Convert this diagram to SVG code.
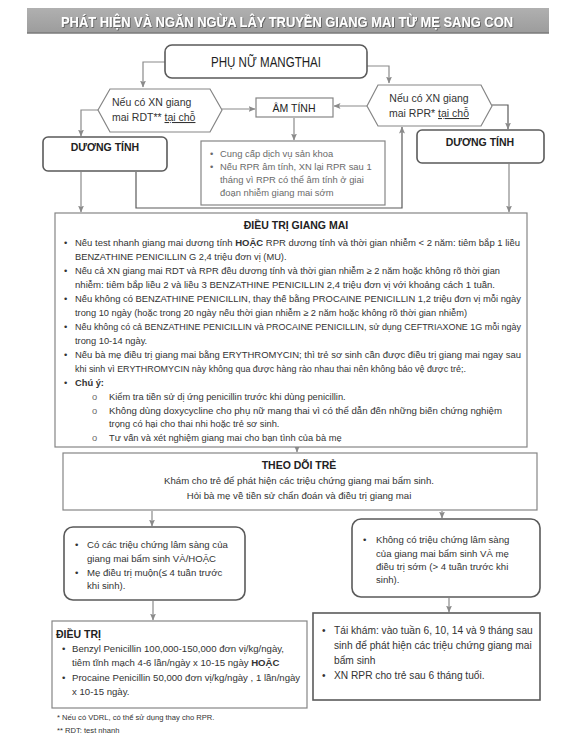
<svg xmlns="http://www.w3.org/2000/svg" width="574" height="742" viewBox="0 0 574 742">
<style>
.t{font-family:"Liberation Sans",Arial,sans-serif;fill:#333;font-size:9.6px}
.b{font-weight:bold}
.g{fill:#6a6a6a}
.box{fill:#fff;stroke:#858585;stroke-width:1.2}
.rb{fill:#fff;stroke:#5a5a5a;stroke-width:1.6}
.conn{fill:none;stroke:#8a8a8a;stroke-width:1.2;marker-end:url(#ah)}
.dk{stroke:#5a5a5a}
</style>
<defs>
<marker id="ah" markerWidth="7" markerHeight="7" refX="6.5" refY="3.5" orient="auto" markerUnits="userSpaceOnUse">
<path d="M0,0.5 L7,3.5 L0,6.5 L1.5,3.5 z" fill="#8a8a8a"/>
</marker>
<linearGradient id="bg" x1="0" y1="0" x2="0" y2="1">
<stop offset="0" stop-color="#b0b0b0"/>
<stop offset="1" stop-color="#9c9c9c"/>
</linearGradient>
<filter id="sh" x="-5%" y="-30%" width="110%" height="160%">
<feDropShadow dx="0.8" dy="0.8" stdDeviation="0.6" flood-color="#555"/>
</filter>
</defs>
<rect width="574" height="742" fill="#fff"/>

<g id="banner">
<rect x="27" y="8" width="522" height="25" fill="url(#bg)"/>
<line x1="27" y1="33" x2="549" y2="33" stroke="#7a7a7a" stroke-width="1.5"/>
<text x="287" y="26.5" text-anchor="middle" class="t b" style="font-size:14.5px;fill:#fff" filter="url(#sh)" textLength="452" lengthAdjust="spacingAndGlyphs">PHÁT HIỆN VÀ NGĂN NGỪA LÂY TRUYỀN GIANG MAI TỪ MẸ SANG CON</text>
</g>

<g id="connectors">
<path class="conn" d="M165,62 H143 V87"/>
<path class="conn" d="M367,66 H389 V83"/>
<path class="conn" d="M222,109 H255"/>
<path class="conn" d="M367,106 H334"/>
<path class="conn" d="M98,110 H81 V136"/>
<path class="conn" d="M294,118 V140"/>
<path class="conn dk" d="M492,105 H508 V129"/>
<path class="conn" d="M81,172 V212"/>
<path class="conn dk" d="M136,172 V208 H402 V127"/>
<path class="conn" d="M509,164 V212"/>
<path class="conn" d="M297,448 V452"/>
<path class="conn" d="M152,511 V526"/>
<path class="conn" d="M442,511 V518"/>
<path class="conn" d="M153,601 V620"/>
<path class="conn" d="M449,598 V612"/>
</g>

<g id="pregnant">
<rect x="165" y="45" width="202" height="33" rx="7" class="rb"/>
<text x="266" y="67" text-anchor="middle" class="t" style="font-size:14.5px;fill:#1e1e1e" textLength="110" lengthAdjust="spacingAndGlyphs">PHỤ NỮ MANGTHAI</text>
</g>

<g id="rdt">
<polygon points="98,110 110,89 210,89 222,110 210,132 110,132" class="box"/>
<text x="112" y="106" class="t" style="font-size:10.5px">Nếu có XN giang</text>
<text x="112" y="121" class="t" style="font-size:10.5px">mai RDT** <tspan text-decoration="underline">tại chỗ</tspan></text>
</g>

<g id="negative">
<rect x="256" y="98" width="77" height="19" class="box"/>
<text x="294" y="112" text-anchor="middle" class="t" style="font-size:10.5px;fill:#222">ÂM TÍNH</text>
</g>

<g id="rpr">
<polygon points="367,106 378,85 481,85 492,106 481,126 378,126" class="box"/>
<text x="429" y="102" text-anchor="middle" class="t" style="font-size:10.5px">Nếu có XN giang</text>
<text x="429" y="117" text-anchor="middle" class="t" style="font-size:10.5px">mai RPR* <tspan text-decoration="underline">tại chỗ</tspan></text>
</g>

<g id="pos-left">
<rect x="43" y="137" width="124" height="34" rx="5" class="rb"/>
<text x="105" y="151" text-anchor="middle" class="t b" style="font-size:10.5px;fill:#222">DƯƠNG TÍNH</text>
</g>

<g id="pos-right">
<rect x="417" y="130" width="127" height="33" rx="5" class="rb"/>
<text x="480" y="146" text-anchor="middle" class="t b" style="font-size:10.5px;fill:#222">DƯƠNG TÍNH</text>
</g>

<g id="neg-info">
<rect x="201" y="141" width="184" height="64" class="box"/>
<text class="t g" style="font-size:9.4px">
<tspan x="210" y="157">•</tspan><tspan x="220" y="157">Cung cấp dịch vụ sản khoa</tspan>
<tspan x="210" y="170">•</tspan><tspan x="220" y="170">Nếu RPR âm tính, XN lại RPR sau 1</tspan>
<tspan x="220" y="183">tháng vì RPR có thể âm tính ở giai</tspan>
<tspan x="220" y="196">đoạn nhiễm giang mai sớm</tspan>
</text>
</g>

<g id="treatment">
<rect x="55" y="213" width="472" height="234" class="box"/>
<text x="296" y="229" text-anchor="middle" class="t b" style="font-size:10.5px;fill:#222">ĐIỀU TRỊ GIANG MAI</text>
<g class="t" style="font-size:9.3px">
<text x="64" y="246">•</text><text x="75" y="246" textLength="445" lengthAdjust="spacingAndGlyphs">Nếu test nhanh giang mai dương tính <tspan class="b">HOẶC</tspan> RPR dương tính và thời gian nhiễm &lt; 2 năm: tiêm bắp 1 liều</text>
<text x="75" y="260">BENZATHINE PENICILLIN G 2,4 triệu đơn vị (MU).</text>
<text x="64" y="274">•</text><text x="75" y="274" textLength="425" lengthAdjust="spacingAndGlyphs">Nếu cả XN giang mai RDT và RPR đều dương tính và thời gian nhiễm ≥ 2 năm hoặc không rõ thời gian</text>
<text x="75" y="288" textLength="420" lengthAdjust="spacingAndGlyphs">nhiễm: tiêm bắp liều 2 và liều 3 BENZATHINE PENICILLIN 2,4 triệu đơn vị với khoảng cách 1 tuần.</text>
<text x="64" y="302">•</text><text x="75" y="302" textLength="446" lengthAdjust="spacingAndGlyphs">Nếu không có BENZATHINE PENICILLIN, thay thế bằng PROCAINE PENICILLIN 1,2 triệu đơn vị mỗi ngày</text>
<text x="75" y="316" textLength="392" lengthAdjust="spacingAndGlyphs">trong 10 ngày (hoặc trong 20 ngày nếu thời gian nhiễm ≥ 2 năm hoặc không rõ thời gian nhiễm)</text>
<text x="64" y="330">•</text><text x="75" y="330" textLength="446" lengthAdjust="spacingAndGlyphs">Nếu không có cả BENZATHINE PENICILLIN và PROCAINE PENICILLIN, sử dụng CEFTRIAXONE 1G mỗi ngày</text>
<text x="75" y="344">trong 10-14 ngày.</text>
<text x="64" y="358">•</text><text x="75" y="358" textLength="446" lengthAdjust="spacingAndGlyphs">Nếu bà mẹ điều trị giang mai bằng ERYTHROMYCIN; thì trẻ sơ sinh cần được điều trị giang mai ngay sau</text>
<text x="75" y="372" textLength="391" lengthAdjust="spacingAndGlyphs">khi sinh vì ERYTHROMYCIN này không qua được hàng rào nhau thai nên không bảo vệ được trẻ;.</text>
<text x="64" y="386">•</text><text x="75" y="386" class="b">Chú ý:</text>
<text x="92" y="400" class="g">o</text><text x="109" y="400">Kiểm tra tiền sử dị ứng penicillin trước khi dùng penicillin.</text>
<text x="92" y="414" class="g">o</text><text x="109" y="414" textLength="393" lengthAdjust="spacingAndGlyphs">Không dùng doxycycline cho phụ nữ mang thai vì có thể dẫn đến những biến chứng nghiệm</text>
<text x="109" y="427">trọng có hại cho thai nhi hoặc trẻ sơ sinh.</text>
<text x="92" y="441" class="g">o</text><text x="109" y="441">Tư vấn và xét nghiệm giang mai cho bạn tình của bà mẹ</text>
</g>
</g>

<g id="followup">
<rect x="63" y="453" width="474" height="57" class="box"/>
<text x="299" y="469" text-anchor="middle" class="t b" style="font-size:10.5px;fill:#222">THEO DÕI TRẺ</text>
<text x="299" y="484" text-anchor="middle" class="t">Khám cho trẻ để phát hiện các triệu chứng giang mai bẩm sinh.</text>
<text x="299" y="499" text-anchor="middle" class="t">Hỏi bà mẹ về tiền sử chẩn đoán và điều trị giang mai</text>
</g>

<g id="symptoms">
<rect x="64" y="527" width="181" height="73" rx="9" class="rb"/>
<text class="t">
<tspan x="75" y="548">•</tspan><tspan x="87" y="548">Có các triệu chứng lâm sàng của</tspan>
<tspan x="87" y="562">giang mai bẩm sinh VÀ/HOẶC</tspan>
<tspan x="75" y="576">•</tspan><tspan x="87" y="576">Mẹ điều trị muộn(≤ 4 tuần trước</tspan>
<tspan x="87" y="589">khi sinh).</tspan>
</text>
</g>

<g id="no-symptoms">
<rect x="352" y="519" width="188" height="78" rx="9" class="rb"/>
<text class="t">
<tspan x="363" y="543">•</tspan><tspan x="376" y="543">Không có triệu chứng lâm sàng</tspan>
<tspan x="376" y="557">của giang mai bẩm sinh VÀ mẹ</tspan>
<tspan x="376" y="570">điều trị sớm (&gt; 4 tuần trước khi</tspan>
<tspan x="376" y="583">sinh).</tspan>
</text>
</g>

<g id="infant-treatment">
<rect x="52" y="621" width="255" height="87" class="box"/>
<text x="56" y="638" class="t b" style="font-size:10.5px;fill:#222">ĐIỀU TRỊ</text>
<text class="t">
<tspan x="62" y="652">•</tspan><tspan x="72" y="652">Benzyl Penicillin 100,000-150,000 đơn vị/kg/ngày,</tspan>
<tspan x="72" y="666">tiêm tĩnh mạch 4-6 lần/ngày x 10-15 ngày <tspan class="b">HOẶC</tspan></tspan>
<tspan x="62" y="681">•</tspan><tspan x="72" y="681">Procaine Penicillin 50,000 đơn vị/kg/ngày , 1 lần/ngày</tspan>
<tspan x="72" y="695">x 10-15 ngày.</tspan>
</text>
</g>

<g id="recheck">
<rect x="313" y="613" width="227" height="87" class="rb"/>
<text class="t" style="font-size:10.2px">
<tspan x="322" y="634">•</tspan><tspan x="334" y="634">Tái khám: vào tuần 6, 10, 14 và 9 tháng sau</tspan>
<tspan x="334" y="649">sinh để phát hiện các triệu chứng giang mai</tspan>
<tspan x="334" y="664">bẩm sinh</tspan>
<tspan x="322" y="679">•</tspan><tspan x="334" y="679">XN RPR cho trẻ sau 6 tháng tuổi.</tspan>
</text>
</g>

<g id="footnotes">
<text x="57" y="720" class="t" style="font-size:7.6px">* Nếu có VDRL, có thể sử dụng thay cho RPR.</text>
<text x="57" y="733" class="t" style="font-size:7.6px">** RDT: test nhanh</text>
</g>
</svg>
